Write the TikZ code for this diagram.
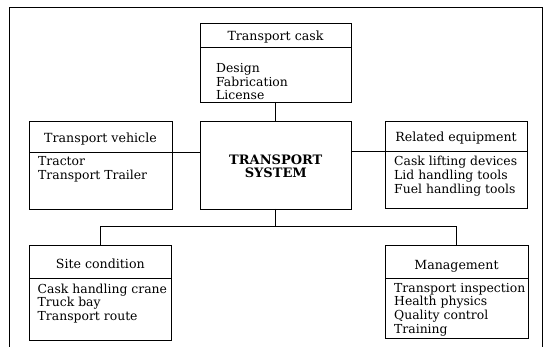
\documentclass[tikz,border=0pt]{standalone}
\usepackage{fontspec}
\setmainfont{DejaVu Serif}
\begin{document}
\begin{tikzpicture}[x=1pt,y=-1pt,
  box/.style={draw, line width=0.8pt, rectangle, inner sep=0pt, outer sep=0pt, anchor=north west},
  link/.style={line width=0.8pt},
  headtext/.style={anchor=base, inner sep=0pt, font=\fontsize{12.6}{13.6}\selectfont},
  bodytext/.style={anchor=north west, inner sep=0pt, align=left, font=\fontsize{12.4}{13.6}\selectfont},
  titletext/.style={anchor=center, inner sep=0pt, align=center, font=\bfseries\fontsize{13}{13}\selectfont}]
\useasboundingbox (0,0) rectangle (544,347);

% outer frame, open at the bottom
\draw[link] (9,347) -- (9,7) -- (542,7) -- (542,347);

% transport cask
\node[box, minimum width=151pt, minimum height=24.3pt] (caskHead) at (200,23.6) {};
\node[box, minimum width=151pt, minimum height=54.1pt] (caskBody) at (200,47.9) {};
\node[headtext] (caskTitle) at (275.5,40.2) {Transport cask};
\node[bodytext] (caskList) at (216,62.7) {\strut Design\\Fabrication\\License};

% transport vehicle
\node[box, minimum width=143pt, minimum height=30.6pt] (vehHead) at (29,121.7) {};
\node[box, minimum width=143pt, minimum height=57pt] (vehBody) at (29,152.3) {};
\node[headtext] (vehTitle) at (100.5,142.7) {Transport vehicle};
\node[bodytext] (vehList) at (38,156.2) {\strut Tractor\\Transport Trailer};

% central system box
\node[box, minimum width=150.3pt, minimum height=87.3pt] (center) at (200.7,121.7) {};
\node[titletext] (centerTitle) at (275.8,166) {TRANSPORT\\SYSTEM};

% related equipment
\node[box, minimum width=142pt, minimum height=30pt] (relHead) at (385,121.7) {};
\node[box, minimum width=142pt, minimum height=56.3pt] (relBody) at (385,151.7) {};
\node[headtext] (relTitle) at (456,141.7) {Related equipment};
\node[bodytext] (relList) at (394,156.2) {\strut Cask lifting devices\\Lid handling tools\\Fuel handling tools};

% site condition
\node[box, minimum width=142.5pt, minimum height=33pt] (siteHead) at (29,245) {};
\node[box, minimum width=142.5pt, minimum height=62pt] (siteBody) at (29,278) {};
\node[headtext] (siteTitle) at (100.3,268.6) {Site condition};
\node[bodytext] (siteList) at (37.5,283.4) {\strut Cask handling crane\\Truck bay\\Transport route};

% management
\node[box, minimum width=143pt, minimum height=33pt] (mgmtHead) at (385,245) {};
\node[box, minimum width=143pt, minimum height=60pt] (mgmtBody) at (385,278) {};
\node[headtext] (mgmtTitle) at (456.5,269.6) {Management};
\node[bodytext] (mgmtList) at (394,282.5) {\strut Transport inspection\\Health physics\\Quality control\\Training};

% connectors
\coordinate (bus) at (275.8,226.7);
\draw[link] (caskBody.south) -- (caskBody.south |- center.north);
\draw[link] (vehHead.south east) -- (vehHead.south east -| center.west);
\draw[link] (center.east |- relHead.south west) -- (relHead.south west);
\draw[link] (center.south) -- (center.south |- bus);
\draw[link] (siteHead.north) |- (bus) -| (mgmtHead.north);
\end{tikzpicture}
\end{document}
